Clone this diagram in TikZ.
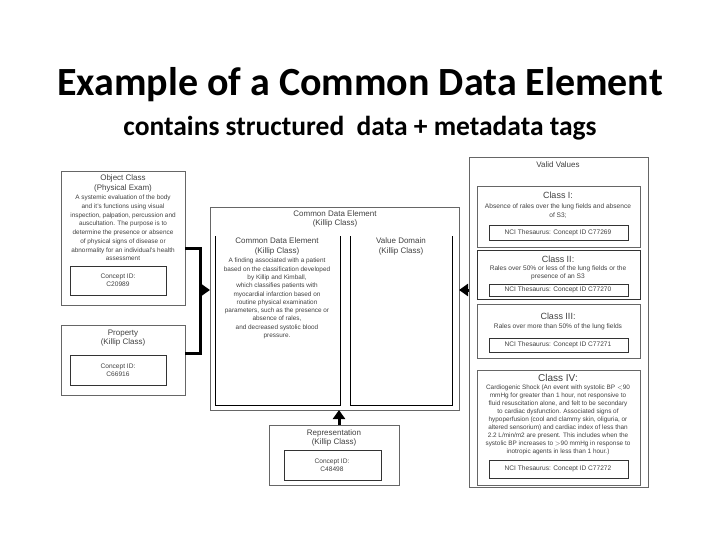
\documentclass[tikz,border=0pt]{standalone}
\usepackage{fontspec}
\setmainfont{Liberation Sans}
\newfontfamily\titlefont{Carlito}
\usetikzlibrary{arrows.meta}
\begin{document}
\begin{tikzpicture}[x=1pt,y=-1pt,
  box/.style={draw=black!60,line width=0.6pt},
  ibox/.style={draw=black!80,line width=0.6pt},
  tx/.style={font=\fontsize{6.6}{8.3}\selectfont,text=black!75,align=center,inner sep=0pt},
  hd/.style={font=\fontsize{8}{9.5}\selectfont,text=black!75,align=center,inner sep=0pt},
  conn/.style={line width=3pt,-{Triangle[length=9pt,width=12pt]}},
  bar/.style={line width=3pt}]
\useasboundingbox (0,0) rectangle (720,540);
\node[font=\titlefont\bfseries\fontsize{40}{44}\selectfont] (title) at (360,85) {Example of a Common Data Element};
\node[font=\titlefont\bfseries\fontsize{27.5}{30}\selectfont] (sub) at (360,128) {contains structured\ \ data + metadata tags};
% Object class
\draw[box] (61,171) rectangle (185,305);
\node[hd,anchor=north] (oc) at (123,175) {Object Class\\(Physical Exam)};
\node[tx,anchor=north,font=\fontsize{6.4}{8.7}\selectfont] (ocd) at (123,195) {A systemic evaluation of the body\\and it's functions using visual\\inspection, palpation, percussion and\\auscultation. The purpose is to\\determine the presence or absence\\of physical signs of disease or\\abnormality for an individual's health\\assessment};
\draw[ibox] (70,266) rectangle (166,295);
\node[tx] (occ) at (118,280) {Concept ID:\\C20989};
% Property
\draw[box] (61,325) rectangle (185,395);
\node[hd] (pr) at (123,338) {Property\\(Killip Class)};
\draw[ibox] (70,355) rectangle (166,385);
\node[tx] (prc) at (118,370) {Concept ID:\\C66916};
% CDE
\draw[box] (210,207) rectangle (459,410);
\node[hd] (cde) at (335,219) {Common Data Element\\(Killip Class)};
\draw[line width=0.6pt] (215,236) -- (215,405) -- (340,405) -- (340,236);
\draw[line width=0.6pt] (350,236) -- (350,405) -- (452,405) -- (452,236);
\node[hd,anchor=north] (cde2) at (277,238) {Common Data Element\\(Killip Class)};
\node[tx,anchor=north,font=\fontsize{6.4}{8.3}\selectfont] (cded) at (277,258) {A finding associated with a patient\\based on the classification developed\\by Killip and Kimball,\\which classifies patients with\\myocardial infarction based on\\routine physical examination\\parameters, such as the presence or\\absence of rales,\\and decreased systolic blood\\pressure.};
\node[hd,anchor=north] (vd) at (401,238) {Value Domain\\(Killip Class)};
% Representation
\draw[box] (269,425) rectangle (399,485);
\node[hd] (rep) at (334,438) {Representation\\(Killip Class)};
\draw[ibox] (284,450) rectangle (381,480);
\node[tx] (repc) at (332,465) {Concept ID:\\C48498};
% Valid values
\draw[box] (469,157) rectangle (648,487);
\node[hd] (vv) at (558,165) {Valid Values};
\draw[box] (477,186) rectangle (640,247);
\node[hd,font=\fontsize{9}{10}\selectfont] (c1) at (558,195) {Class I:};
\node[tx] at (558,211) {Absence of rales over the lung fields and absence\\of S3;};
\draw[ibox] (489,225) rectangle (628,240);
\node[tx] at (558,232.5) {NCI Thesaurus: Concept ID C77269};
\draw[ibox] (477,250) rectangle (640,299);
\node[hd,font=\fontsize{9}{10}\selectfont] (c2) at (558,259) {Class II:};
\node[tx] at (558,273) {Rales over 50\% or less of the lung fields or the\\presence of an S3};
\draw[ibox] (489,284) rectangle (628,296);
\node[tx] at (558,290) {NCI Thesaurus: Concept ID C77270};
\draw[box] (477,304) rectangle (640,358);
\node[hd,font=\fontsize{9}{10}\selectfont] (c3) at (558,316) {Class III:};
\node[tx] at (558,327) {Rales over more than 50\% of the lung fields};
\draw[ibox] (489,338) rectangle (628,352);
\node[tx] at (558,345) {NCI Thesaurus: Concept ID C77271};
\draw[box] (477,370) rectangle (640,485);
\node[hd,font=\fontsize{10}{11}\selectfont] (c4) at (558,378) {Class IV:};
\node[tx,font=\fontsize{6.4}{8}\selectfont,anchor=north] at (558,385) {Cardiogenic Shock (An event with systolic BP $<$90\\mmHg for greater than 1 hour, not responsive to\\fluid resuscitation alone, and felt to be secondary\\to cardiac dysfunction. Associated signs of\\hypoperfusion (cool and clammy skin, oliguria, or\\altered sensorium) and cardiac index of less than\\2.2 L/min/m2 are present. This includes when the\\systolic BP increases to $>$90 mmHg in response to\\inotropic agents in less than 1 hour.)};
\draw[ibox] (489,460) rectangle (628,478);
\node[tx] at (558,469) {NCI Thesaurus: Concept ID C77272};
% connectors
\coordinate (j1) at (185,248);
\coordinate (j2) at (185,353);
\draw[bar] (j1) -- (200,248) -- (200,353) -- (j2);
\draw[conn] (200,290) -- (210,290);
\draw[conn] (469,290) -- (459,290);
\draw[conn] (339,425) -- (339,410);
\end{tikzpicture}
\end{document}
